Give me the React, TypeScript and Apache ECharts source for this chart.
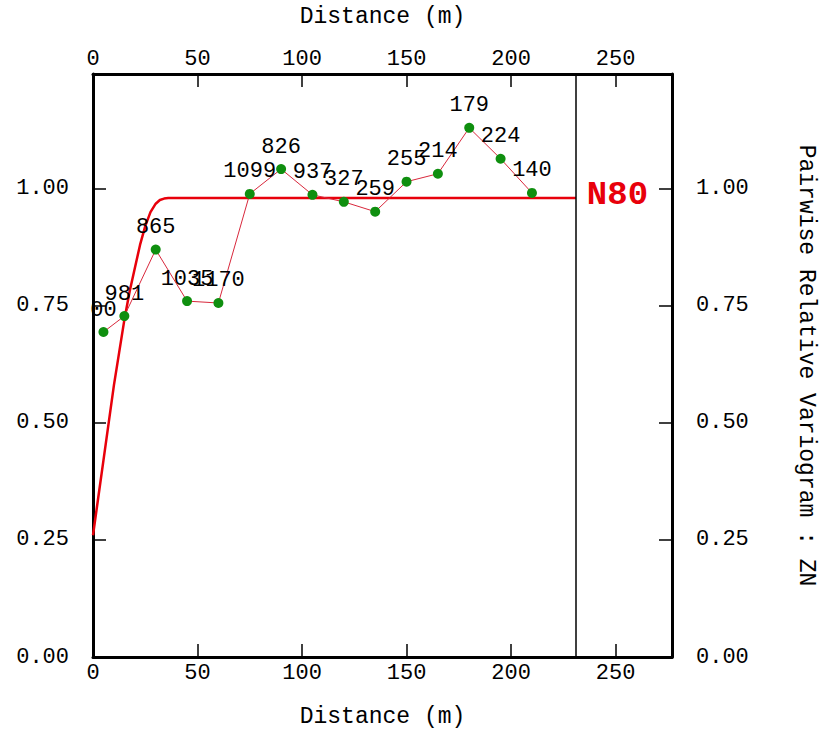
import React, { useEffect, useRef } from "react";
import * as echarts from "echarts";

// Experimental variogram points (lag distance, value) and pair counts
const lagDistances = [5, 15, 30, 45, 60, 75, 90, 105, 120, 135, 150, 165, 180, 195, 210];
const variogramValues = [0.694, 0.728, 0.870, 0.760, 0.756, 0.989, 1.042, 0.987, 0.972, 0.951, 1.015, 1.032, 1.130, 1.064, 0.991];
const pairLabels = ["00", "981", "865", "1035", "1170", "1099", "826", "937", "327", "259", "255", "214", "179", "224", "140"];

// Fitted model curve
const modelDistances = [0, 2.5, 5, 7.5, 10, 12.5, 15, 17.5, 20, 22.5, 25, 27.5, 30, 32, 34, 36, 231];
const modelValues = [0.26, 0.34, 0.42, 0.50, 0.58, 0.65, 0.72, 0.78, 0.83, 0.88, 0.92, 0.95, 0.968, 0.976, 0.979, 0.98, 0.98];
const modelName = "N80";

// Axis settings
const xMax = 277;
const yMax = 1.245;
const xTickInterval = 50;
const yTickInterval = 0.25;
const maxDistanceLine = 231;

const FONT = "'Liberation Mono', 'DejaVu Sans Mono', monospace";

export default function App() {
  const ref = useRef<HTMLDivElement>(null);

  useEffect(() => {
    if (!ref.current) return;
    const chart = echarts.init(ref.current, null, { renderer: "svg" });

    const axisLineStyle = { color: "#000", width: 3 };
    const tickStyle = { color: "#000", width: 1.5 };
    const labelStyle = { color: "#000", fontFamily: FONT, fontSize: 22 };
    const nameStyle = { color: "#000", fontFamily: FONT, fontSize: 23 };

    const xAxisBase = {
      type: "value",
      min: 0,
      max: xMax,
      interval: xTickInterval,
      splitLine: { show: false },
      axisLine: { show: true, onZero: false, lineStyle: axisLineStyle },
      axisTick: { show: true, inside: true, length: 13, lineStyle: tickStyle },
      name: "Distance (m)",
      nameLocation: "middle",
      nameTextStyle: nameStyle,
      axisLabel: { ...labelStyle, showMaxLabel: false },
    };
    const yAxisBase = {
      type: "value",
      min: 0,
      max: yMax,
      interval: yTickInterval,
      splitLine: { show: false },
      axisLine: { show: true, onZero: false, lineStyle: axisLineStyle },
      axisTick: { show: true, inside: true, length: 13, lineStyle: tickStyle },
      axisLabel: {
        ...labelStyle,
        showMaxLabel: false,
        formatter: (v: number) => v.toFixed(2),
      },
    };

    chart.setOption({
      animation: false,
      backgroundColor: "#fff",
      grid: { left: 93, right: 147, top: 72, bottom: 76, containLabel: false },
      xAxis: [
        { ...xAxisBase, position: "bottom", nameGap: 48, axisLabel: { ...xAxisBase.axisLabel, margin: 5 } },
        { ...xAxisBase, position: "top", nameGap: 46, axisLabel: { ...xAxisBase.axisLabel, margin: 4 } },
      ],
      yAxis: [
        { ...yAxisBase, position: "left", axisLabel: { ...yAxisBase.axisLabel, margin: 24 } },
        {
          ...yAxisBase,
          position: "right",
          axisLabel: { ...yAxisBase.axisLabel, margin: 24 },
          name: "Pairwise Relative Variogram : ZN",
          nameLocation: "middle",
          nameRotate: -90,
          nameGap: 122,
          nameTextStyle: nameStyle,
        },
      ],
      series: [
        {
          name: modelName,
          type: "line",
          xAxisIndex: 0,
          yAxisIndex: 0,
          data: modelDistances.map((d, i) => [d, modelValues[i]]),
          smooth: false,
          showSymbol: false,
          symbol: "none",
          lineStyle: { color: "#e8000b", width: 2.5, join: "round" },
          endLabel: {
            show: true,
            formatter: modelName,
            color: "#e8000b",
            fontFamily: FONT,
            fontWeight: "bold",
            fontSize: 34,
            distance: 11,
            offset: [0, -3],
          },
          markLine: {
            silent: true,
            symbol: ["none", "none"],
            label: { show: false },
            lineStyle: { color: "#000", width: 1.5, type: "solid" },
            data: [{ xAxis: maxDistanceLine }],
          },
          z: 3,
        },
        {
          name: "experimental",
          type: "line",
          xAxisIndex: 0,
          yAxisIndex: 0,
          data: lagDistances.map((d, i) => [d, variogramValues[i]]),
          symbol: "circle",
          symbolSize: 10,
          itemStyle: { color: "#0f8f0f" },
          lineStyle: { color: "#d8283c", width: 1 },
          label: {
            show: true,
            position: "top",
            distance: 6,
            color: "#000",
            fontFamily: FONT,
            fontSize: 22,
            formatter: (p: any) => pairLabels[p.dataIndex],
          },
          labelLayout: { hideOverlap: false },
          z: 4,
        },
      ],
    });

    return () => chart.dispose();
  }, []);

  return (
    <div
      ref={ref}
      style={{ position: "absolute", left: 0, top: 0, width: 825, height: 733 }}
    />
  );
}
